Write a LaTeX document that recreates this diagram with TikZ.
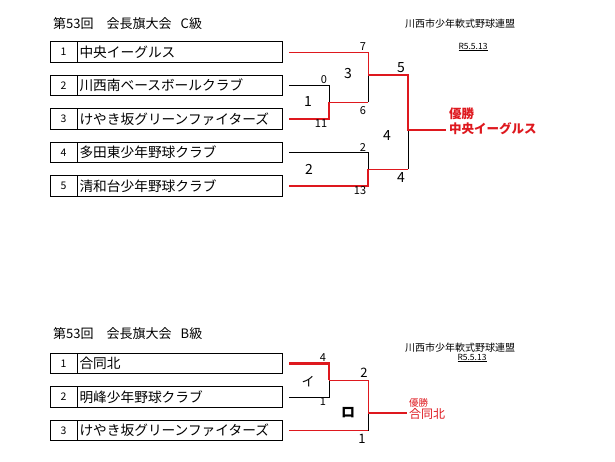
\documentclass[tikz,border=0pt]{standalone}
\usepackage{fontspec}
\setmainfont{Noto Sans CJK JP}
\usetikzlibrary{positioning}
\definecolor{wred}{RGB}{222,24,30}

\tikzset{
  numcell/.style={draw, line width=0.8pt, minimum width=27pt, minimum height=20.5pt,
    inner sep=0pt, outer sep=0pt, font=\fontsize{10.5}{11}\selectfont},
  namecell/.style={draw, line width=0.8pt, minimum height=20.5pt, text width=200pt,
    inner xsep=2.5pt, inner ysep=0pt, outer sep=0pt, align=left,
    font=\fontsize{13.7}{14}\selectfont},
  bline/.style={black, line width=0.8pt},
  thinred/.style={wred, line width=0.8pt},
  thickred/.style={wred, line width=2.4pt},
  score/.style={inner sep=0pt, font=\fontsize{11}{11}\selectfont},
  rnd/.style={inner sep=0pt, font=\fontsize{14}{14}\selectfont},
  hdr/.style={inner sep=0pt, font=\fontsize{10}{10}\selectfont},
  datehdr/.style={inner sep=0pt, font=\fontsize{8.5}{9}\selectfont},
}

\begin{document}
\begin{tikzpicture}[x=1pt, y=-1pt]
    \useasboundingbox (0,0) rectangle (615,461);

    % C class
    \node[anchor=west, inner sep=0pt, font=\fontsize{13}{13}\selectfont] (ctitle) at (53,24) {第53回　会長旗大会\hspace{0.7em}C級};
    \node[hdr] (chdr) at (460,24) {川西市少年軟式野球連盟};
    \node[datehdr] (cdate) at (473,47) {\underline{R5.5.13}};

    \foreach \i/\team in {1/中央イーグルス,2/川西南ベースボールクラブ,3/けやき坂グリーンファイターズ,4/多田東少年野球クラブ,5/清和台少年野球クラブ}{
        \node[numcell] (cn\i) at (63.5,{52+(\i-1)*33.5}) {\i};
        \node[namecell, right=0pt of cn\i] (ct\i) {\team};
    }

    \coordinate (m1) at (329,102);
    \coordinate (m2) at (368,169);
    \coordinate (m3) at (368,75);
    \coordinate (m4) at (408,130);
    \coordinate (cw) at (446,130);

    \draw[bline] ([xshift=7pt]ct2.east) -| (m1);
    \draw[bline] (m1 -| m3) -- (m3);
    \draw[bline] ([xshift=7pt]ct4.east) -| (m2);
    \draw[bline] (m2 -| m4) -- (m4);
    \draw[thinred] ([xshift=7pt]ct1.east) -| (m3);
    \draw[thinred] (m1) -- (m1 -| m3);
    \draw[thinred] (m2) -- (m2 -| m4);
    \draw[thickred] ([xshift=7pt]ct3.east) -| (m1);
    \draw[thickred] ([xshift=7pt]ct5.east) -| (m2);
    \draw[thickred] (m3) -| (m4) -- (cw);

    \node[score] (s7) at (363,47) {7};
    \node[score] (s0) at (324,80) {0};
    \node[score] (s11) at (321,124) {11};
    \node[score] (s6) at (363,111) {6};
    \node[score] (s2) at (363,148) {2};
    \node[score] (s13) at (360,191) {13};
    \node[rnd] (r1) at (308,102) {1};
    \node[rnd] (r2) at (309,169) {2};
    \node[rnd] (r3) at (348,74) {3};
    \node[rnd] (r4) at (387,136) {4};
    \node[rnd] (s5) at (401,68) {5};
    \node[rnd] (s4) at (401,178) {4};

    \node[anchor=west, inner sep=0pt, text=wred, font=\fontsize{12.5}{13}\bfseries] (cwin) at (449,114) {優勝};
    \node[anchor=west, inner sep=0pt, text=wred, font=\fontsize{12.5}{13}\bfseries] (cname) at (449,128.5) {中央イーグルス};

    % B class
    \node[anchor=west, inner sep=0pt, font=\fontsize{13}{13}\selectfont] (btitle) at (53,334) {第53回　会長旗大会\hspace{0.7em}B級};
    \node[hdr] (bhdr) at (460,348) {川西市少年軟式野球連盟};
    \node[datehdr] (bdate) at (472,358) {\underline{R5.5.13}};

    \foreach \i/\team in {1/合同北,2/明峰少年野球クラブ,3/けやき坂グリーンファイターズ}{
        \node[numcell] (bn\i) at (63.5,{363.5+(\i-1)*33.5}) {\i};
        \node[namecell, right=0pt of bn\i] (bt\i) {\team};
    }

    \coordinate (mi) at (329,380);
    \coordinate (mro) at (368,413);
    \coordinate (bw) at (407,413);

    \draw[bline] ([xshift=7pt]bt2.east) -| (mi);
    \draw[bline] (bt3.east -| mro) -- (mro);
    \draw[thinred] ([xshift=7pt]bt3.east) -- (bt3.east -| mro);
    \draw[thinred] (mi) -| (mro);
    \draw[thickred] ([xshift=7pt]bt1.east) -| (mi);
    \draw[thickred] (mro) -- (bw);

    \node[score] (b4) at (323,358) {4};
    \node[score] (b1) at (323,402) {1};
    \node[rnd, font=\fontsize{13}{13}\selectfont] (bs2) at (364,373) {2};
    \node[rnd, font=\fontsize{13}{13}\selectfont] (bs1) at (362,439) {1};
    \node[rnd, font=\fontsize{13}{13}\selectfont] (ri) at (308,382) {イ};
    \node[rnd, font=\fontsize{14}{14}\bfseries] (rro) at (348,413) {ロ};

    \node[anchor=west, inner sep=0pt, text=wred, font=\fontsize{9.5}{10}\selectfont] (bwin) at (409,403) {優勝};
    \node[anchor=west, inner sep=0pt, text=wred, font=\fontsize{12}{12}\selectfont] (bname) at (409,414) {合同北};
\end{tikzpicture}
\end{document}
